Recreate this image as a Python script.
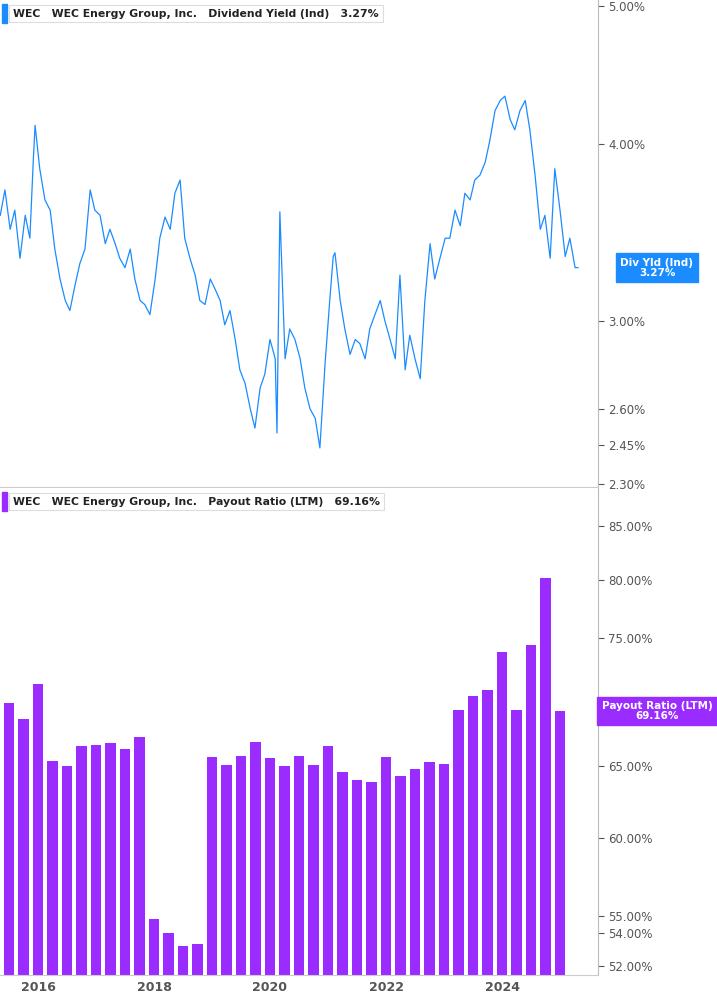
import numpy as np, pandas as pd, seaborn as sns, matplotlib
matplotlib.use("Agg")
import matplotlib.pyplot as plt
from matplotlib.ticker import FixedLocator, NullLocator, FuncFormatter

# Dividend yield (approx), decimal years
yield_dates = [2015.35,2015.43,2015.52,2015.60,2015.69,2015.78,2015.86,2015.92,2015.95,2016.03,2016.12,2016.21,2016.29,2016.38,2016.47,2016.55,2016.64,2016.72,2016.81,2016.90,2016.98,2017.07,2017.16,2017.24,2017.33,2017.41,2017.50,2017.59,2017.67,2017.76,2017.84,2017.93,2018.02,2018.10,2018.19,2018.28,2018.36,2018.45,2018.53,2018.62,2018.71,2018.79,2018.88,2018.97,2019.05,2019.14,2019.22,2019.31,2019.40,2019.48,2019.57,2019.66,2019.74,2019.83,2019.91,2020.00,2020.09,2020.12,2020.17,2020.26,2020.34,2020.43,2020.52,2020.60,2020.69,2020.78,2020.86,2020.95,2021.03,2021.09,2021.12,2021.21,2021.29,2021.38,2021.47,2021.55,2021.64,2021.72,2021.81,2021.90,2021.98,2022.07,2022.16,2022.24,2022.33,2022.41,2022.50,2022.59,2022.67,2022.76,2022.84,2022.93,2023.02,2023.10,2023.19,2023.28,2023.36,2023.45,2023.53,2023.62,2023.71,2023.79,2023.88,2023.97,2024.05,2024.14,2024.22,2024.31,2024.40,2024.48,2024.57,2024.66,2024.74,2024.83,2024.91,2025.00,2025.09,2025.17,2025.26,2025.31]
yield_vals = [3.56,3.71,3.48,3.59,3.32,3.56,3.43,3.90,4.12,3.84,3.65,3.59,3.37,3.21,3.10,3.05,3.18,3.29,3.37,3.71,3.59,3.56,3.40,3.48,3.40,3.32,3.27,3.37,3.21,3.10,3.08,3.03,3.21,3.43,3.55,3.48,3.69,3.77,3.43,3.32,3.23,3.10,3.08,3.21,3.16,3.10,2.98,3.05,2.91,2.77,2.71,2.60,2.52,2.69,2.75,2.91,2.82,2.50,3.58,2.82,2.96,2.91,2.82,2.69,2.60,2.56,2.44,2.80,3.10,3.33,3.35,3.10,2.96,2.84,2.91,2.89,2.82,2.96,3.03,3.10,3.00,2.91,2.82,3.23,2.77,2.93,2.82,2.73,3.10,3.40,3.21,3.32,3.43,3.43,3.59,3.50,3.69,3.65,3.77,3.80,3.88,4.02,4.22,4.29,4.32,4.16,4.09,4.22,4.29,4.09,3.80,3.48,3.56,3.32,3.84,3.59,3.33,3.43,3.27,3.27]

# Payout ratio (LTM), quarterly
payout_dates = [2015.5 + 0.25*i for i in range(39)]
payout_vals = [69.8,68.5,71.3,65.4,65.0,66.5,66.6,66.7,66.3,67.2,54.8,54.0,53.2,53.3,65.7,65.1,65.8,66.8,65.6,65.0,65.8,65.1,66.5,64.6,64.0,63.9,65.7,64.3,64.8,65.3,65.2,69.2,70.3,70.8,73.9,69.2,74.4,80.2,69.16]

blue = "#1a8cff"; purple = "#9b2cff"; grey = "#555555"
fig = plt.figure(figsize=(7.17, 10.05), dpi=100)
W, H = 717, 1005
ax1 = fig.add_axes([0, 1-487/H, 598/W, 487/H])
ax2 = fig.add_axes([0, 1-975/H, 598/W, 487/H])

sns.lineplot(x=yield_dates, y=yield_vals, ax=ax1, color=blue, linewidth=0.9)
sns.barplot(x=payout_dates, y=payout_vals, ax=ax2, color=purple, native_scale=True, width=0.75, saturation=1)

pct = FuncFormatter(lambda v, p: f"{v:.2f}%")
for ax, lim, ticks in [(ax1, (2.29, 5.05), [2.30,2.45,2.60,3.00,4.00,5.00]),
                       (ax2, (51.5, 88.7), [52,54,55,60,65,75,80,85])]:
    ax.set_yscale("log")
    ax.set_ylim(*lim)
    ax.set_xlim(2015.345, 2025.655)
    ax.yaxis.set_major_locator(FixedLocator(ticks))
    ax.yaxis.set_minor_locator(NullLocator())
    ax.yaxis.set_major_formatter(pct)
    ax.yaxis.tick_right()
    ax.tick_params(axis="y", labelsize=8.5, colors=grey, length=4, labelcolor=grey)
    for s in ["top", "left"]:
        ax.spines[s].set_visible(False)
    ax.spines["right"].set_color("#bbbbbb")
    ax.spines["bottom"].set_color("#cccccc")
    ax.set_xlabel(""); ax.set_ylabel("")
ax1.set_xticks([])
ax2.set_xticks([2016, 2018, 2020, 2022, 2024])
ax2.set_xticklabels(["2016", "2018", "2020", "2022", "2024"], fontweight="bold", color=grey, fontsize=9)
ax2.tick_params(axis="x", length=0, pad=4)

def legend(ax, color, metric, value):
    ax.add_patch(plt.Rectangle((0.004, 0.952), 0.008, 0.04, transform=ax.transAxes, color=color, clip_on=False))
    ax.text(0.022, 0.972, f"WEC   WEC Energy Group, Inc.   {metric}   {value}", transform=ax.transAxes,
            fontsize=7.8, fontweight="bold", color="#222222", va="center",
            bbox=dict(boxstyle="square,pad=0.35", fc="white", ec="#dddddd", lw=0.8))
legend(ax1, blue, "Dividend Yield (Ind)", "3.27%")
legend(ax2, purple, "Payout Ratio (LTM)", "69.16%")

def tag(ax, color, label, v):
    ax.add_patch(plt.Rectangle((1.0, 0), 119/598, 1, transform=ax.get_yaxis_transform(), alpha=0))
    ax.text(1.0 + 59/598, v, f"{label}\n{v:.2f}%", transform=ax.get_yaxis_transform(),
            ha="center", va="center", fontsize=7.5, fontweight="bold", color="white", linespacing=1.0,
            bbox=dict(boxstyle="square,pad=0.4", fc=color, ec=color), clip_on=False, zorder=10)
tag(ax1, blue, "Div Yld (Ind)", 3.27)
tag(ax2, purple, "Payout Ratio (LTM)", 69.16)

fig.savefig("out.png", dpi=100, facecolor="white")
